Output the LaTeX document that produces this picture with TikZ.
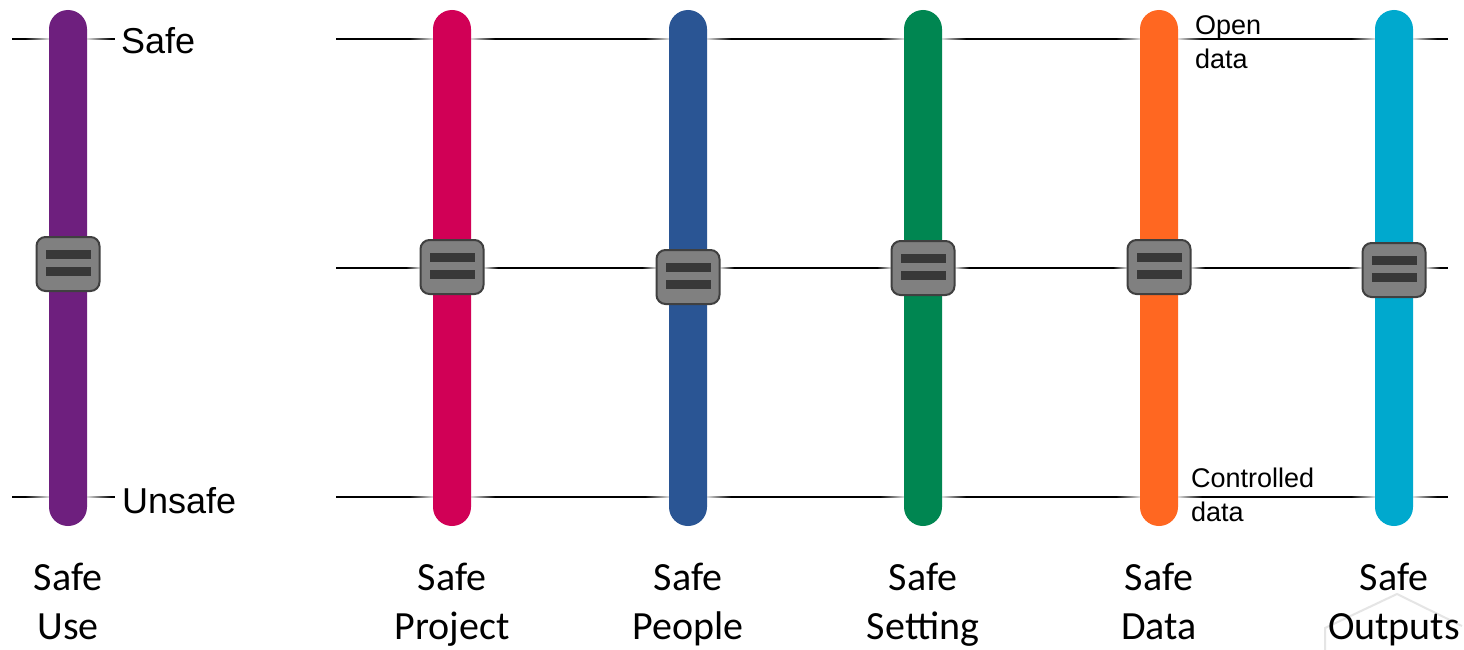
\documentclass[tikz,border=0pt]{standalone}
\usepackage{fontspec}
\setmainfont{Liberation Sans}
\newfontfamily\calib{Carlito}
\definecolor{cUse}{HTML}{6E1F7E}
\definecolor{cProj}{HTML}{D10056}
\definecolor{cPeop}{HTML}{2A5594}
\definecolor{cSett}{HTML}{008651}
\definecolor{cData}{HTML}{FF6721}
\definecolor{cOut}{HTML}{00A9CE}
\definecolor{knobfill}{HTML}{808080}
\definecolor{knobedge}{HTML}{404040}
\definecolor{knobbar}{HTML}{383838}
\tikzset{
  x=1pt, y=-1pt,
  railline/.style={line width=1.6pt, black},
  knob/.style={rectangle, rounded corners=9pt, fill=knobfill, draw=knobedge, line width=2pt, minimum width=63pt, minimum height=54pt, inner sep=0pt},
  grip/.style={fill=knobbar, draw=none},
  biglabel/.style={font=\calib\fontsize{40}{49}\selectfont, align=center, anchor=base, inner sep=0pt},
  endlabel/.style={font=\fontsize{36}{40}\selectfont, anchor=base west, inner sep=0pt},
  smalllabel/.style={font=\fontsize{27}{34}\selectfont, align=left, anchor=base west, inner sep=0pt},
}
\newcommand{\fadeR}[3]{\shade[left color=black, right color=black!12] (#1,#3-0.8) rectangle (#2,#3+0.8);}
\newcommand{\fadeL}[3]{\shade[left color=black!12, right color=black] (#1,#3-0.8) rectangle (#2,#3+0.8);}
\newcommand{\railbar}[2]{%
  \fill[#2, rounded corners=19pt] (#1-19,10) rectangle (#1+19,526);}
\newcommand{\knobat}[3]{%
  \node[knob] (#3) at (#1,#2) {};
  \fill[grip] (#1-22.5,#2-14) rectangle (#1+22.5,#2-5);
  \fill[grip] (#1-22.5,#2+3) rectangle (#1+22.5,#2+12);}
\begin{document}
\begin{tikzpicture}
\useasboundingbox (0,0) rectangle (1464,650);
\fill[white] (0,0) rectangle (1464,650);

% watermark trace
\draw[black!10, line width=2pt] (1325,650) -- (1325,628) -- (1397,594) -- (1462,626);

% coordinates for line ends
\coordinate (lt0) at (12,39);
\coordinate (lt1) at (115,39);
\coordinate (lb0) at (12,497);
\coordinate (lb1) at (115,497);
\coordinate (rt0) at (336,39);
\coordinate (rt1) at (1448,39);
\coordinate (rm0) at (336,268);
\coordinate (rm1) at (1448,268);
\coordinate (rb0) at (336,497);
\coordinate (rb1) at (1448,497);

% rails
\draw[railline] (lt0) -- (lt1);
\draw[railline] (lb0) -- (lb1);
\draw[railline] (rt0) -- (rt1);
\draw[railline] (rm0) -- (rm1);
\draw[railline] (rb0) -- (rb1);

% fades near bars (top and bottom lines)
\foreach \cx in {68,452,688,923,1159,1394}{
  \foreach \yy in {39,497}{
    \fadeR{\cx-43}{\cx-19}{\yy}
    \fadeL{\cx+19}{\cx+43}{\yy}
  }
}
% fades near knobs on middle line
\foreach \cx in {452,688,923,1159,1394}{
  \fadeR{\cx-46}{\cx-32}{268}
  \fadeL{\cx+32}{\cx+46}{268}
}

% bars
\railbar{68}{cUse}
\railbar{452}{cProj}
\railbar{688}{cPeop}
\railbar{923}{cSett}
\railbar{1159}{cData}
\railbar{1394}{cOut}

% knobs
\knobat{68}{264}{kUse}
\knobat{452}{267}{kProj}
\knobat{688}{277}{kPeop}
\knobat{923}{268}{kSett}
\knobat{1159}{267}{kData}
\knobat{1394}{270}{kOut}

% end labels
\node[endlabel] (tSafe) at (121,54) {Safe};
\node[endlabel] (tUnsafe) at (122,513) {Unsafe};
\node[smalllabel] (tOpen) at (1195,69) {Open\\data};
\node[smalllabel] (tCtrl) at (1191,521) {Controlled\\data};

% bottom labels
\node[biglabel] (lUse) at (68,639) {Safe\\Use};
\node[biglabel] (lProj) at (452,639) {Safe\\Project};
\node[biglabel] (lPeop) at (688,639) {Safe\\People};
\node[biglabel] (lSett) at (923,639) {Safe\\Setting};
\node[biglabel] (lData) at (1159,639) {Safe\\Data};
\node[biglabel] (lOut) at (1394,639) {Safe\\Outputs};
\end{tikzpicture}
\end{document}
